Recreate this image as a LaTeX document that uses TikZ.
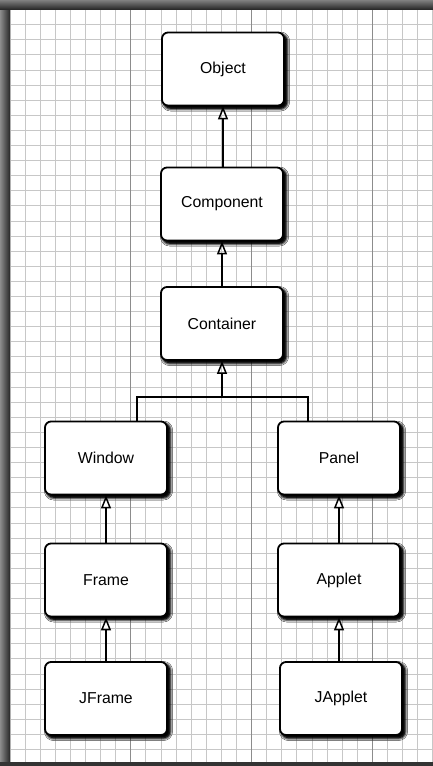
\documentclass[tikz,border=0pt]{standalone}
\usepackage{fontspec}
\setmainfont{Liberation Sans}
\usetikzlibrary{arrows.meta,shadows.blur,calc}
\begin{document}
\begin{tikzpicture}[x=1pt,y=-1pt,
  cls/.style={draw=black, line width=1.8pt, fill=white, rounded corners=6pt,
    minimum width=122pt, minimum height=73pt, inner sep=0pt,
    font=\fontsize{15.8}{18}\selectfont,
    blur shadow={shadow xshift=5pt, shadow yshift=-5pt, shadow blur radius=8pt, shadow opacity=100, shadow blur extra rounding=3pt},
    blur shadow={shadow xshift=4pt, shadow yshift=-4pt, shadow blur radius=5pt, shadow opacity=100},
    blur shadow={shadow xshift=2.5pt, shadow yshift=-2.5pt, shadow blur radius=3pt, shadow opacity=100}},
  gen/.style={line width=1.5pt, -{Triangle[open, width=10pt, length=13pt, line width=1.5pt]}},
  link/.style={line width=1.5pt},
  minorline/.style={black!22, line width=0.8pt},
  majorline/.style={black!45, line width=1pt}]
\useasboundingbox (0,0) rectangle (433,766);
\fill[white] (0,0) rectangle (433,766);
% grid paper
\foreach \i in {0,...,28} { \draw[minorline] ({9.9+15.1*\i},0) -- ({9.9+15.1*\i},766); }
\foreach \j in {0,...,50} { \draw[minorline] (0,{9.5+15.1*\j}) -- (433,{9.5+15.1*\j}); }
\foreach \i in {1,2,3} { \draw[majorline] ({9.9+120.8*\i},0) -- ({9.9+120.8*\i},766); }
% page border
\shade[left color=black!45, right color=black!85] (0,0) rectangle (10,766);
\shade[top color=black!50, bottom color=black!85] (0,0) rectangle (433,9.5);
\fill[black!80] (0,761.5) rectangle (433,766);
% classes
\node[cls] (object)    at (223,69)    {Object};
\node[cls] (component) at (222,204)   {Component};
\node[cls] (container) at (222,323.5) {Container};
\node[cls] (window)    at (106,458)   {Window};
\node[cls] (panel)     at (339,458)   {Panel};
\node[cls] (frame)     at (106,580)   {Frame};
\node[cls] (applet)    at (339,580)   {Applet};
\node[cls] (jframe)    at (106,698.5) {JFrame};
\node[cls] (japplet)   at (341,698.5) {JApplet};
% connectors
\draw[gen] (component.north -| object.south) -- (object.south);
\draw[gen] (container.north) -- (component.south);
\coordinate (bl) at (137,397);
\coordinate (brr) at (308,397);
\draw[link] (window.north -| bl) -- (bl) -- (brr) -- (panel.north -| brr);
\draw[gen] (container.south |- bl) -- (container.south);
\draw[gen] (frame.north) -- (window.south);
\draw[gen] (jframe.north) -- (frame.south);
\draw[gen] (applet.north) -- (panel.south);
\draw[gen] (japplet.north -| applet.south) -- (applet.south);
\end{tikzpicture}
\end{document}
